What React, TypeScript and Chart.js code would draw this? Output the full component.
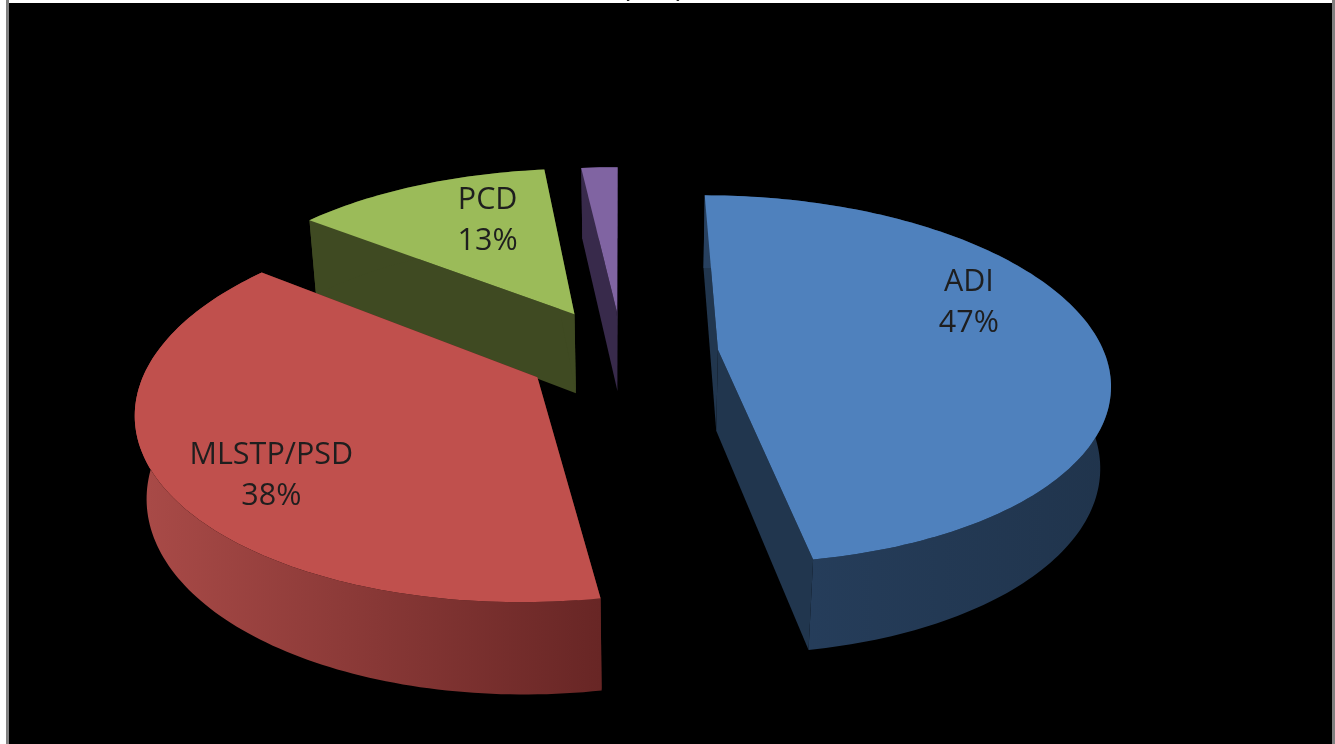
import React, { useEffect, useRef } from "react";
import { Chart, registerables } from "chart.js";

Chart.register(...registerables);

const parties = ["ADI", "MLSTP/PSD", "PCD", "MDFM"];
const shares = [47.3, 38.2, 12.7, 1.8];
const topColors = ["#4F81BD", "#C0504D", "#9BBB59", "#8064A2"];
const cutColors = ["#21364E", "#5E2423", "#3F4A22", "#382A4B"];
const rimNearColors = ["#27405F", "#682625", "#3F4A22", "#382A4B"];
const rimFarColors = ["#20344C", "#AA4B48", "#3F4A22", "#382A4B"];
const explode = [0.25, 0.25, 0.26, 0.24];
const labelPolar: ([number, number] | null)[] = [[68, 0.746], [231.5, 0.772], [336.5, 0.67], null];
const paintOrder = [3, 2, 0, 1];

const WIDTH = 1335;
const HEIGHT = 744;

// Camera model of the tilted pie plane
const HORIZON = -770;
const S0 = 1120;
const TILT = 0.16;
const AX = 622;
const LATERAL = 0.344;
const CENTER_U = 0;
const CENTER_V = -0.02;
const DEPTH = 1.98e-5;
const NADIR_X = 640;
const NADIR_Y = 4000;

function project(U: number, V: number, low = false): [number, number] {
  const s = S0 / (1 + TILT * V);
  let x = AX + LATERAL * U * s;
  let y = HORIZON + s;
  if (low) {
    const t = DEPTH * s;
    x += t * (NADIR_X - x);
    y += t * (NADIR_Y - y);
  }
  return [x, y];
}

function poly(ctx: CanvasRenderingContext2D, pts: [number, number][], fill: any) {
  ctx.beginPath();
  pts.forEach((p, i) => (i ? ctx.lineTo(p[0], p[1]) : ctx.moveTo(p[0], p[1])));
  ctx.closePath();
  ctx.fillStyle = fill;
  ctx.fill();
}

const pie3d = {
  id: "pie3d",
  beforeDraw(chart: any) {
    const ctx: CanvasRenderingContext2D = chart.ctx;
    ctx.save();
    ctx.fillStyle = "#FFFFFF";
    ctx.fillRect(0, 0, WIDTH, HEIGHT);
    ctx.fillStyle = "#808080";
    ctx.fillRect(6, 0, 3, HEIGHT);
    ctx.fillRect(1332, 0, 3, HEIGHT);
    ctx.fillStyle = "#000000";
    ctx.fillRect(9, 3, 1323, HEIGHT - 3);
    ctx.restore();
  },
  beforeDatasetsDraw(chart: any) {
    const ctx: CanvasRenderingContext2D = chart.ctx;
    const arcs = chart.getDatasetMeta(0).data;
    ctx.save();
    ctx.filter = "blur(0.6px)";
    for (const i of paintOrder) {
      const arc = arcs[i];
      const { startAngle, endAngle, outerRadius, x, y } = arc.getProps(["startAngle", "endAngle", "outerRadius", "x", "y"], true);
      const R = outerRadius;
      const mid = (startAngle + endAngle) / 2;
      const e = explode[i];
      const offU = CENTER_U + e * Math.cos(mid);
      const offV = CENTER_V - e * Math.sin(mid);
      const dist = e * R;
      const ax = x + dist * Math.cos(mid);
      const ay = y + dist * Math.sin(mid);
      const toPlane = (a: number): [number, number] => {
        const px = ax + R * Math.cos(a);
        const py = ay + R * Math.sin(a);
        return [(px - x) / R + CENTER_U, -(py - y) / R + CENTER_V];
      };
      const steps = Math.max(4, Math.round((endAngle - startAngle) / 0.02));
      const angles: number[] = [];
      for (let k = 0; k <= steps; k++) angles.push(startAngle + ((endAngle - startAngle) * k) / steps);
      const apex = project(offU, offV);
      const apexLow = project(offU, offV, true);
      const first = toPlane(startAngle);
      const last = toPlane(endAngle);
      // cut faces
      poly(ctx, [apex, project(first[0], first[1]), project(first[0], first[1], true), apexLow], cutColors[i]);
      poly(ctx, [apex, project(last[0], last[1]), project(last[0], last[1], true), apexLow], cutColors[i]);
      // rim, shaded across the picture
      const upper: [number, number][] = [];
      const lower: [number, number][] = [];
      for (const ang of angles) {
        const p = toPlane(ang);
        upper.push(project(p[0], p[1]));
        lower.push(project(p[0], p[1], true));
      }
      const xs = upper.map((p) => p[0]);
      const near = i === 1 ? Math.max(...xs) : Math.min(...xs);
      const far = i === 1 ? Math.min(...xs) : Math.max(...xs);
      const grad = ctx.createLinearGradient(near, 0, far === near ? near + 1 : far, 0);
      grad.addColorStop(0, rimNearColors[i]);
      grad.addColorStop(1, rimFarColors[i]);
      poly(ctx, [...upper, ...lower.reverse()], grad);
      // top face
      poly(ctx, [apex, ...upper], topColors[i]);
    }
    // data labels
    const total = shares.reduce((s, v) => s + v, 0);
    ctx.filter = "blur(0.4px)";
    ctx.font = '30.5px "Open Sans"';
    ctx.textAlign = "center";
    ctx.textBaseline = "middle";
    ctx.fillStyle = "#1E1E1E";
    arcs.forEach((arc: any, i: number) => {
      const polar = labelPolar[i];
      if (!polar) return;
      const { startAngle, endAngle } = arc.getProps(["startAngle", "endAngle"], true);
      const mid = (startAngle + endAngle) / 2;
      const th = (polar[0] * Math.PI) / 180;
      const U = CENTER_U + explode[i] * Math.cos(mid) + polar[1] * Math.sin(th);
      const V = CENTER_V - explode[i] * Math.sin(mid) + polar[1] * Math.cos(th);
      const [lx, ly] = project(U, V);
      ctx.fillText(parties[i], lx, ly - 20);
      ctx.fillText(`${Math.round((shares[i] / total) * 100)}%`, lx, ly + 21);
    });
    // title, cut off by the crop of the picture
    ctx.filter = "none";
    ctx.save();
    ctx.beginPath();
    ctx.rect(9, 0, 1323, 3);
    ctx.clip();
    ctx.fillStyle = "#222222";
    ctx.textAlign = "left";
    ctx.textBaseline = "alphabetic";
    ctx.font = '27px "Lato"';
    ctx.fillText("party", 625, -4);
    ctx.restore();
    ctx.restore();
    return false;
  },
};

export default function App() {
  const ref = useRef<HTMLCanvasElement>(null);
  useEffect(() => {
    document.body.style.margin = "0";
    document.body.style.background = "#FFFFFF";
    const chart = new Chart(ref.current as HTMLCanvasElement, {
      type: "pie",
      data: {
        labels: parties,
        datasets: [{ data: shares, backgroundColor: topColors, borderWidth: 0 }],
      },
      options: {
        animation: false,
        responsive: false,
        devicePixelRatio: 1,
        plugins: { legend: { display: false }, tooltip: { enabled: false }, title: { display: false } },
      },
      plugins: [pie3d],
    } as any);
    return () => chart.destroy();
  }, []);
  return <canvas ref={ref} width={WIDTH} height={HEIGHT} style={{ display: "block" }} />;
}
